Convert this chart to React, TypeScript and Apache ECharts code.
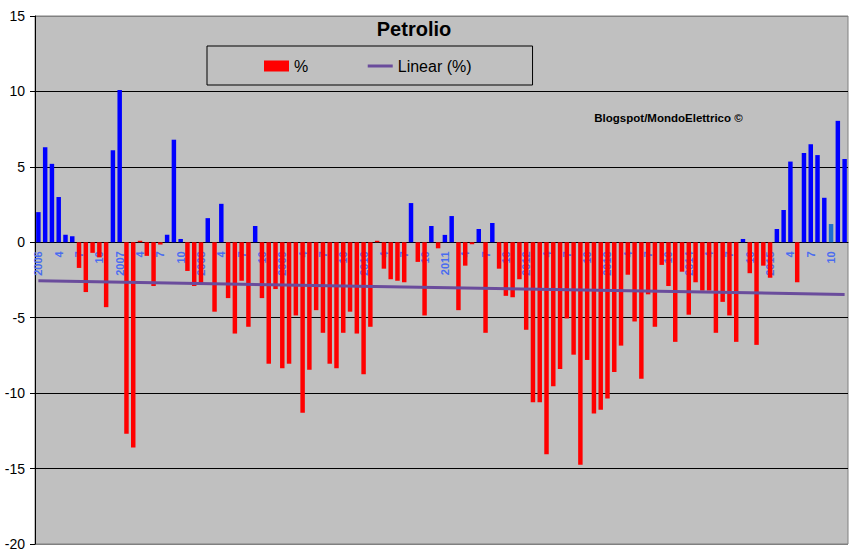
import React, { useEffect, useRef } from "react";
import * as echarts from "echarts";

const FONT = "'Liberation Sans', Arial, sans-serif";

const YEARS = ["2006", "2007", "2008", "2009", "2010", "2011", "2012", "2013", "2014", "2015"];
const MONTHS = ["1", "2", "3", "4", "5", "6", "7", "8", "9", "10", "11", "12"];

const V2006 = [2.0, 6.3, 5.2, 3.0, 0.5, 0.4, -1.7, -3.3, -0.7, -1.0, -4.3, 6.1];
const V2007 = [10.1, -12.7, -13.6, 0.1, -0.9, -2.9, -0.15, 0.5, 6.8, 0.22, -1.9, -2.9];
const V2008 = [-2.8, 1.6, -4.6, 2.55, -3.7, -6.05, -2.55, -5.6, 1.08, -3.7, -8.05, -3.1];
const V2009 = [-8.35, -8.05, -4.85, -11.3, -8.45, -4.5, -6.0, -8.05, -8.35, -6.0, -4.6, -6.05];
const V2010 = [-8.75, -5.6, 0.1, -1.75, -2.45, -2.55, -2.65, 2.6, -1.3, -4.85, 1.08, -0.4];
const V2011 = [0.49, 1.74, -4.5, -1.55, -0.13, 0.88, -6.0, 1.28, -1.75, -3.55, -3.65, -2.45];
const V2012 = [-5.8, -10.6, -10.6, -14.05, -9.55, -8.4, -5.05, -7.45, -14.75, -7.8, -11.35, -11.1];
const V2013 = [-10.35, -8.6, -6.85, -2.15, -5.25, -9.05, -3.45, -5.6, -1.5, -2.9, -6.6, -1.95];
const V2014 = [-4.8, -2.65, -3.2, -3.2, -6.0, -3.95, -4.85, -6.6, 0.22, -2.05, -6.8, -1.55];
const V2015 = [-2.35, 0.88, 2.14, 5.35, -2.65, 5.92, 6.5, 5.78, 2.95, 1.21, 8.05, 5.52];

const VALUES = [...V2006, ...V2007, ...V2008, ...V2009, ...V2010, ...V2011, ...V2012, ...V2013, ...V2014, ...V2015];
const CATEGORIES = YEARS.flatMap((y) => MONTHS.map((m) => `${y}-${m}`));

// Linear trendline end values
const TREND_START = -2.55;
const TREND_END = -3.46;
const HIGHLIGHT_INDEX = 117; // lighter blue bar (Oct 2015)

const Y_MIN = -20;
const Y_MAX = 15;

const W = 862;
const H = 557;
const GRID_TOP = 16;
const GRID_BOTTOM = 13;

export default function App() {
  const ref = useRef<HTMLDivElement>(null);

  useEffect(() => {
    if (!ref.current) return;
    const chart = echarts.init(ref.current, null, { renderer: "svg" });

    const trend = VALUES.map((_, i) =>
      i === 0 ? TREND_START : i === VALUES.length - 1 ? TREND_END : null
    );

    // move the category axis up to the zero line of the value axis
    const gridH = H - GRID_TOP - GRID_BOTTOM;
    const zeroY = GRID_TOP + (gridH * Y_MAX) / (Y_MAX - Y_MIN);
    const xOffset = -(H - GRID_BOTTOM - zeroY);

    chart.setOption({
      animation: false,
      backgroundColor: "#ffffff",
      title: {
        text: "Petrolio",
        left: 414,
        top: 18.5,
        padding: 0,
        textAlign: "center",
        textStyle: { fontSize: 20, fontWeight: "bold", color: "#000", fontFamily: FONT },
      },
      legend: {
        left: 207,
        top: 46,
        padding: [12, 61, 11, 57],
        itemGap: 58,
        itemWidth: 25,
        itemHeight: 11,
        borderColor: "#000",
        borderWidth: 1,
        textStyle: { fontSize: 16, color: "#000", fontFamily: FONT },
        data: [
          { name: "%", icon: "rect", itemStyle: { color: "#FF0000" } },
          {
            name: "Linear (%)",
            itemStyle: { color: "rgba(0,0,0,0)", borderColor: "rgba(0,0,0,0)", borderWidth: 0, opacity: 0 },
            lineStyle: { width: 3, color: "#6A4C9C" },
          },
        ],
      },
      grid: {
        left: 35,
        right: 14,
        top: GRID_TOP,
        bottom: GRID_BOTTOM,
        outerBoundsMode: "none",
        containLabel: false,
        show: true,
        backgroundColor: "#C0C0C0",
        borderColor: "#808080",
        borderWidth: 1,
      },
      xAxis: {
        type: "category",
        data: CATEGORIES,
        boundaryGap: true,
        offset: xOffset,
        axisLine: { onZero: false, lineStyle: { color: "#000", width: 1 } },
        axisTick: { interval: 0, length: 4, lineStyle: { color: "#000" } },
        axisLabel: {
          interval: 2,
          rotate: 90,
          margin: 9,
          fontSize: 11,
          fontWeight: "bold",
          color: "#4A6CF0",
          fontFamily: FONT,
          formatter: (v: string) => {
            const [y, m] = v.split("-");
            return m === "1" ? y : m;
          },
        },
        splitLine: { show: false },
      },
      yAxis: {
        type: "value",
        min: Y_MIN,
        max: Y_MAX,
        interval: 5,
        axisLine: { show: true, onZero: false, lineStyle: { color: "#000" } },
        axisTick: { show: true, length: 5, lineStyle: { color: "#000" } },
        axisLabel: { fontSize: 14, color: "#000", margin: 10, fontFamily: FONT },
        splitLine: {
          show: true,
          lineStyle: {
            width: 1,
            color: ["#808080", "#000", "#000", "#000", "#000", "#000", "#000", "#808080"],
          },
        },
      },
      graphic: [
        {
          type: "text",
          x: 668.5,
          y: 118,
          style: {
            text: "Blogspot/MondoElettrico ©",
            fontSize: 11.5,
            fontWeight: "bold",
            fontFamily: FONT,
            fill: "#000",
            textAlign: "center",
            textVerticalAlign: "middle",
          },
        },
      ],
      series: [
        {
          type: "bar",
          name: "%",
          data: VALUES,
          barWidth: "66%",
          itemStyle: {
            color: (p: any) =>
              p.dataIndex === HIGHLIGHT_INDEX ? "#1E6ED2" : p.value >= 0.2 ? "#0000FF" : "#FF0000",
          },
        },
        {
          type: "line",
          name: "Linear (%)",
          data: trend,
          connectNulls: true,
          symbol: "none",
          showSymbol: false,
          z: 5,
          lineStyle: { width: 3, color: "#6A4C9C" },
          itemStyle: { color: "#6A4C9C" },
        },
      ],
    });

    return () => chart.dispose();
  }, []);

  return (
    <div
      ref={ref}
      style={{ position: "absolute", left: 0, top: 0, width: W, height: H, background: "#fff" }}
    />
  );
}
